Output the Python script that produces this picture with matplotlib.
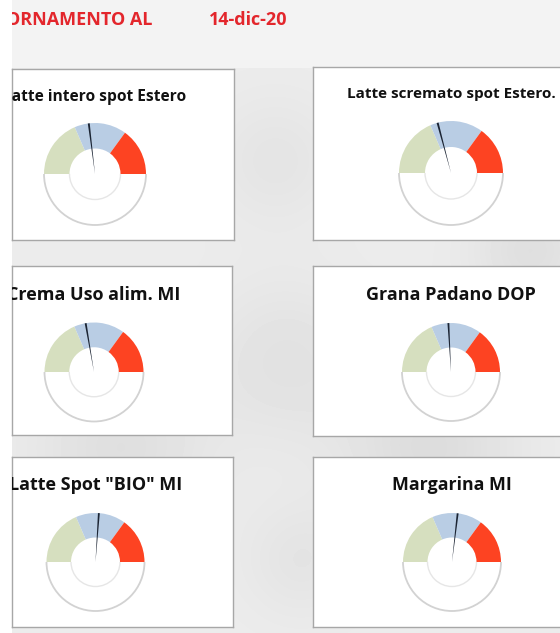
import matplotlib
matplotlib.use("Agg")
import matplotlib.pyplot as plt
from matplotlib.patches import Wedge, Arc
import numpy as np

# ---------------- data ----------------
header_label = "AGGIORNAMENTO AL"
header_date = "14-dic-20"
titles = ["Latte intero spot Estero", "Latte scremato spot Estero.",
          "Crema Uso alim. MI", "Grana Padano DOP",
          'Latte Spot "BIO" MI', "Margarina MI"]
band_values = [37, 33, 30]          # shares of the upper half ring (green, blue, red)
needle_values = [46.1, 41.7, 44.6, 48.3, 52.2, 53.7]   # needle position on a 0-100 scale

# ---------------- styles / layout ----------------
band_colors = ["#d6dfbf", "#b9cde4", "#fd4322"]
needle_color = "#1b2433"
W, H = 560, 633
# boxes in image pixels: left, top, right, bottom
boxes = [(12, 69, 234, 240), (313, 67, 562, 240),
         (12, 266, 232, 435), (313, 266, 562, 436),
         (12, 457, 233, 627), (313, 457, 562, 627)]
centers = [(95, 174), (451, 173), (94, 372), (451, 372), (95.5, 562), (452, 562)]
radii = [51, 52, 49.5, 49, 49, 49]
baselines = [101, 98, 300, 300, 490, 490]
title_sizes = [11.2, 11, 13, 13, 13, 12.8]

plt.rcParams["font.family"] = ["Open Sans", "DejaVu Sans"]

fig = plt.figure(figsize=(W / 100, H / 100), dpi=100, facecolor="white")

# background (soft grey, like a faded photo)
bg = fig.add_axes([12 / W, 0, (W - 12) / W, 1])
bg.set_xlim(12, W)
bg.set_ylim(H, 0)
bg.axis("off")
xx, yy = np.meshgrid(np.arange(12, W), np.arange(H))
img = np.full(xx.shape, 0.925)
img[yy < 68] = 0.955
blobs = [(275, 160, 45, 0.03), (285, 360, 55, 0.04), (530, 250, 40, 0.05),
         (120, 447, 60, 0.05), (430, 447, 60, 0.06), (300, 560, 40, 0.03)]
for bx, by, s, d in blobs:
    img -= d * np.exp(-((xx - bx) ** 2 + (yy - by) ** 2) / (2 * s ** 2)) * (yy >= 68)
bg.imshow(img, cmap="gray", vmin=0, vmax=1, extent=(12, W, H, 0), aspect="auto",
          interpolation="bilinear")
bg.text(152, 25, header_label, color="#e3262c", fontsize=13, fontweight="bold",
        ha="right", va="baseline", clip_on=True)
bg.text(209, 25, header_date, color="#e3262c", fontsize=13, fontweight="bold",
        ha="left", va="baseline", clip_on=True)

for i in range(6):
    l, t, r, b = boxes[i]
    ax = fig.add_axes([l / W, 1 - b / H, (r - l) / W, (b - t) / H])
    cx, cy = centers[i]
    cyd = H - cy
    rad = radii[i]
    vals = band_values + [sum(band_values)]
    ax.pie(vals, startangle=180, counterclock=False, radius=rad, center=(cx, cyd),
           colors=band_colors + ["white"],
           wedgeprops=dict(width=rad * 0.5, linewidth=0), frame=True)
    ax.add_patch(Arc((cx, cyd), 2 * rad, 2 * rad, theta1=180, theta2=360,
                     color="#d2d2d2", lw=1.3))
    ax.add_patch(Arc((cx, cyd), rad, rad, theta1=180, theta2=360,
                     color="#e6e6e6", lw=1.0))
    ang = 180 - needle_values[i] / 100 * 180
    ax.add_patch(Wedge((cx, cyd), rad * 1.0, ang - 1.1, ang + 1.1,
                       facecolor=needle_color, edgecolor="none"))
    ax.set_aspect("auto")
    ax.set_xlim(l, r)
    ax.set_ylim(H - b, H - t)
    ax.set_xticks([])
    ax.set_yticks([])
    ax.set_facecolor("white")
    ax.set_frame_on(True)
    for sp in ax.spines.values():
        sp.set_color("#a7a7a7")
        sp.set_linewidth(1.0)
    ax.text(cx, H - baselines[i], titles[i], ha="center", va="baseline",
            fontsize=title_sizes[i], fontweight="bold", color="#111111", clip_on=True)

fig.savefig("out.png", dpi=100, facecolor="white")
